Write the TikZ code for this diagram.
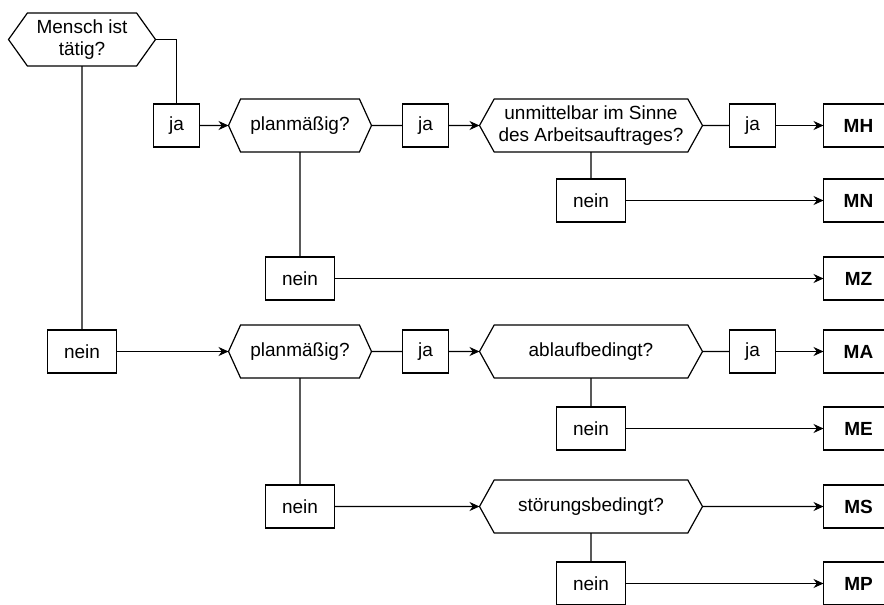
\documentclass[tikz,border=0pt]{standalone}
\usepackage{fontspec}
\setmainfont{Liberation Sans}
\usetikzlibrary{arrows.meta,positioning,shapes.symbols}

\begin{document}
\begin{tikzpicture}[x=1pt,y=1pt,
  every node/.style={font=\fontsize{19}{22}\selectfont},
  ask/.style={signal,signal to=west and east,draw,fill=white,align=center,
              minimum height=53pt,inner sep=2pt,outer sep=0pt,line width=1.2pt},
  ans/.style={draw,fill=white,minimum width=#1,minimum height=43pt,
              inner sep=2pt,outer sep=0pt,line width=1.2pt},
  ans/.default=46pt,
  res/.style={ans=70pt,font=\fontsize{19}{22}\selectfont\bfseries},
  arr/.style={-{Stealth[length=10pt,width=9pt]},line width=1.2pt},
  lnk/.style={line width=1.2pt}]
\fill[white] (0,0) rectangle (884,-605);
\useasboundingbox (0,0) rectangle (884,-605);
\clip (0,0) rectangle (884,-605);
% obere Haelfte
\node[ask,minimum width=147pt,signal pointer angle=109] (mensch) at (82,-39.5) {Mensch ist\\tätig?};
\node[ans] (ja1) at (176.5,-125.5) {ja};
\node[ask,minimum width=143pt,signal pointer angle=131,right=29pt of ja1] (plan1) {planmäßig?};
\node[ans,right=31pt of plan1] (ja2) {ja};
\node[ask,minimum width=223pt,signal pointer angle=122,right=31pt of ja2] (unm) {unmittelbar im Sinne\\des Arbeitsauftrages?};
\node[ans,right=27pt of unm] (ja3) {ja};
\node[res,right=48pt of ja3] (mh) {MH};
\node[ans=69pt,below=27pt of unm] (nein1) {nein};
\node[res] (mn) at (mh |- nein1) {MN};
\node[ans=69pt,below=105pt of plan1] (nein2) {nein};
\node[res] (mz) at (mh |- nein2) {MZ};
% untere Haelfte
\node[ans=69pt,below=264pt of mensch] (nein3) {nein};
\node[ask,minimum width=143pt,signal pointer angle=131] (plan2) at (plan1 |- nein3) {planmäßig?};
\node[ans] (ja4) at (ja2 |- plan2) {ja};
\node[ask,minimum width=223pt,signal pointer angle=122] (abl) at (unm |- plan2) {ablaufbedingt?};
\node[ans] (ja5) at (ja3 |- plan2) {ja};
\node[res] (ma) at (mh |- plan2) {MA};
\node[ans=69pt,below=29pt of abl] (nein4) {nein};
\node[res] (me) at (mh |- nein4) {ME};
\node[ans=69pt,below=107pt of plan2] (nein5) {nein};
\node[ask,minimum width=223pt,signal pointer angle=122] (stoe) at (abl |- nein5) {störungsbedingt?};
\node[res] (ms) at (mh |- stoe) {MS};
\node[ans=69pt,below=29pt of stoe] (nein6) {nein};
\node[res] (mp) at (mh |- nein6) {MP};
% Verbindungen
\draw[lnk] (mensch.east) -| (ja1.north);
\draw[arr] (ja1) -- (plan1);
\draw[lnk] (plan1) -- (ja2);
\draw[arr] (ja2) -- (unm);
\draw[lnk] (unm) -- (ja3);
\draw[arr] (ja3) -- (mh);
\draw[lnk] (unm) -- (nein1);
\draw[arr] (nein1) -- (mn);
\draw[lnk] (plan1) -- (nein2);
\draw[arr] (nein2) -- (mz);
\draw[lnk] (mensch) -- (nein3);
\draw[arr] (nein3) -- (plan2);
\draw[lnk] (plan2) -- (ja4);
\draw[arr] (ja4) -- (abl);
\draw[lnk] (abl) -- (ja5);
\draw[arr] (ja5) -- (ma);
\draw[lnk] (abl) -- (nein4);
\draw[arr] (nein4) -- (me);
\draw[lnk] (plan2) -- (nein5);
\draw[arr] (nein5) -- (stoe);
\draw[arr] (stoe) -- (ms);
\draw[lnk] (stoe) -- (nein6);
\draw[arr] (nein6) -- (mp);
\end{tikzpicture}
\end{document}
